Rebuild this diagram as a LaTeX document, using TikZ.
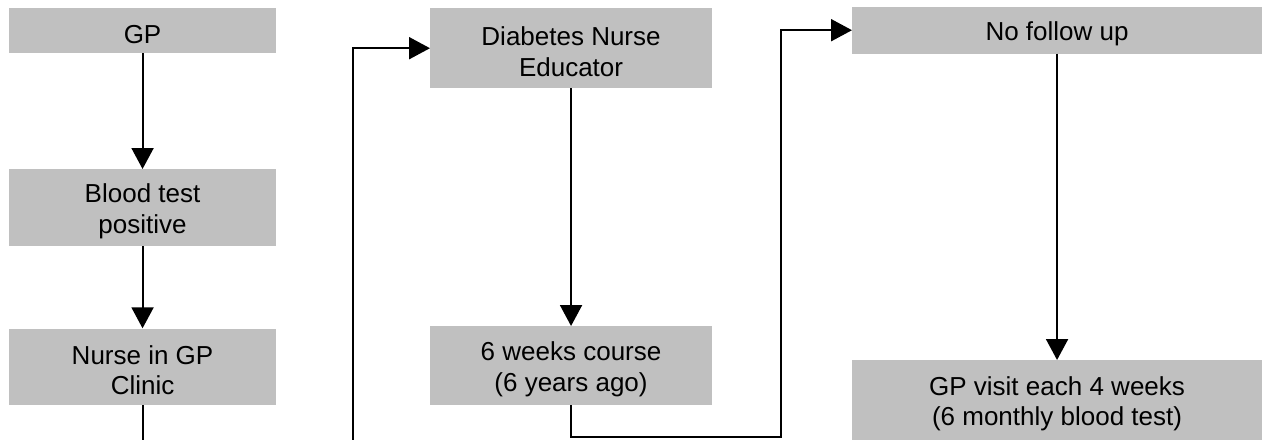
\documentclass[tikz,border=0pt]{standalone}
\usepackage{fontspec}
\setmainfont{Liberation Sans}
\usetikzlibrary{arrows.meta}
\definecolor{boxgray}{HTML}{C0C0C0}
\begin{document}
\begin{tikzpicture}[x=1pt,y=-1pt,
  box/.style={fill=boxgray, draw=none, inner sep=0pt, anchor=north west},
  boxtext/.style={yshift=-3.5pt, align=center, inner sep=0pt, font=\fontsize{26}{30.5}\selectfont},
  conn/.style={line width=2pt, -{Triangle[width=22pt,length=21pt]}},
]
\useasboundingbox (0,0) rectangle (1271,439);
\clip (0,0) rectangle (1271,439);
\fill[white] (0,0) rectangle (1271,439);

\node[box, minimum width=266.7pt, minimum height=45pt, label={[boxtext]center:GP}] (gp) at (9,8) {};
\node[box, minimum width=266.7pt, minimum height=76.7pt, label={[boxtext]center:{Blood test\\positive}}] (blood) at (9,169) {};
\node[box, minimum width=266.7pt, minimum height=76.7pt, label={[boxtext]center:{Nurse in GP\\Clinic}}] (nurse) at (9,328.3) {};

\node[box, minimum width=281.7pt, minimum height=80pt, label={[boxtext]center:{Diabetes Nurse\\Educator}}] (dne) at (430,8) {};
\node[box, minimum width=281.7pt, minimum height=79pt, label={[boxtext]center:{6 weeks course\\(6 years ago)}}] (six) at (430,326) {};

\node[box, minimum width=409.7pt, minimum height=46.6pt, label={[boxtext]center:No follow up}] (nfu) at (852,6.7) {};
\node[box, minimum width=409.7pt, minimum height=80pt, label={[boxtext]center:{GP visit each 4 weeks\\(6 monthly blood test)}}] (gpv) at (852,360) {};

\coordinate (loopL) at (352.7,470);
\coordinate (loopR) at (780.7,437.4);

\draw[conn] (gp) -- (blood);
\draw[conn] (blood) -- (nurse);
\draw[conn] (nurse.south) |- (loopL) |- (dne.west);
\draw[conn] (dne) -- (six);
\draw[conn] (six.south) |- (loopR) |- (nfu.west);
\draw[conn] (nfu) -- (gpv);
\end{tikzpicture}
\end{document}
